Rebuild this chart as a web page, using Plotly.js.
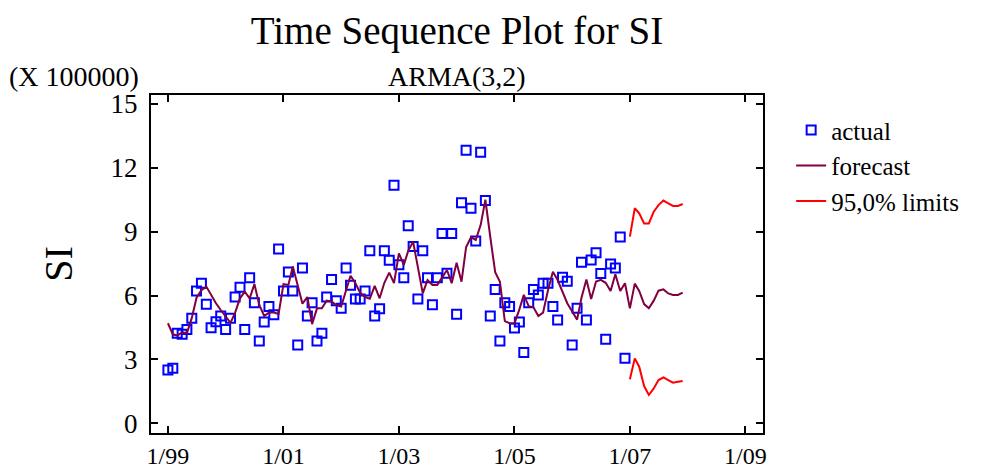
<!DOCTYPE html>
<html>
<head>
<meta charset="utf-8">
<script src="https://cdn.plot.ly/plotly-3.0.1.min.js"></script>
<style>
  html, body { margin: 0; padding: 0; background: #fff; }
  #chart { width: 986px; height: 472px; }
</style>
</head>
<body>
<div id="chart"></div>
<script>
// ---- data (values in units of 100000) ----
const startYear = 1999;          // first month: January 1999
const actual = [
  2.50,2.58,4.23,4.18,4.41,4.93,6.21,6.58,5.59,4.49,
  4.77,5.04,4.41,4.93,5.93,6.39,4.41,6.84,5.66,3.87,
  4.76,5.48,5.10,8.19,6.21,7.11,6.21,3.68,7.29,5.04,
  5.66,3.87,4.23,5.93,6.75,5.76,5.40,7.29,6.48,5.84,
  5.84,6.21,8.11,5.04,5.38,8.11,7.66,11.18,7.45,6.84,
  9.28,8.30,5.84,8.11,6.84,5.57,6.84,8.92,7.05,8.92,
  5.12,10.36,12.82,10.10,8.56,12.73,10.46,5.04,6.29,3.87,
  5.66,5.48,4.48,4.76,3.32,5.66,6.29,6.03,6.58,6.58,
  5.48,4.85,6.86,6.67,3.68,5.40,7.56,4.85,7.67,8.01,
  7.03,3.95,7.48,7.29,8.75,3.05
];
const forecast = [
  4.70,4.18,4.12,4.27,4.23,4.95,5.90,6.25,6.42,6.03,
  5.64,5.32,5.01,4.72,5.20,5.87,6.18,5.87,6.54,5.56,
  5.04,5.20,5.20,5.13,6.54,6.50,7.36,6.50,5.62,5.93,
  4.66,5.40,5.40,5.76,5.72,5.55,5.48,6.25,6.93,6.58,
  6.13,5.93,5.85,6.45,5.87,6.60,7.08,6.58,7.98,7.44,
  8.10,8.53,7.30,6.10,6.73,6.50,6.50,6.85,7.20,6.58,
  7.54,6.65,8.27,8.74,8.61,9.31,10.50,8.75,7.10,6.65,
  4.80,4.70,4.69,5.35,6.03,5.50,5.45,5.04,5.20,6.25,
  7.12,6.73,6.18,5.64,5.25,4.87,5.90,6.75,5.84,6.66,
  6.74,6.60,6.21,7.00,6.21,6.58,5.40,6.56,6.22,5.60,
  5.40,5.76,6.23,6.29,6.10,6.03,6.03,6.14
];
const upperLimit = [8.77,10.10,9.86,9.39,9.39,9.94,10.25,10.46,10.33,10.21,10.21,10.30];
const lowerLimit = [2.07,3.05,2.66,1.75,1.33,1.64,2.03,2.16,2.03,1.91,1.95,1.99];
const limitStart = 96;           // limits begin January 2007
const yTickVals = [0,3,6,9,12,15];
const xTickVals = ['1999-01-01','2001-01-01','2003-01-01','2005-01-01','2007-01-01','2009-01-01'];
const xTickText = ['1/99','1/01','1/03','1/05','1/07','1/09'];

function monthDate(i) {
  const y = startYear + Math.floor(i / 12);
  const m = (i % 12) + 1;
  return y + '-' + (m < 10 ? '0' + m : m) + '-01';
}
const months = forecast.map((_, i) => monthDate(i));
const actualX = actual.map((_, i) => months[i]);
const limitX = upperLimit.map((_, i) => months[limitStart + i]);

const FONT = 'Liberation Serif, Times New Roman, serif';

const traces = [
  {
    type: 'scatter', mode: 'markers', name: 'actual',
    x: actualX, y: actual,
    marker: { symbol: 'square-open', size: 9, color: '#0000FF', line: { width: 2, color: '#0000FF' } }
  },
  {
    type: 'scatter', mode: 'lines', name: 'forecast',
    x: months, y: forecast,
    line: { color: '#800040', width: 2 }
  },
  {
    type: 'scatter', mode: 'lines', name: '95,0% limits', legendgroup: 'lim',
    x: limitX, y: upperLimit,
    line: { color: '#FF0000', width: 2 }
  },
  {
    type: 'scatter', mode: 'lines', name: '95,0% limits', legendgroup: 'lim', showlegend: false,
    x: limitX, y: lowerLimit,
    line: { color: '#FF0000', width: 2 }
  }
];

const layout = {
  width: 986, height: 472,
  margin: { l: 151, r: 223, t: 95, b: 39 },
  paper_bgcolor: '#ffffff', plot_bgcolor: '#ffffff',
  font: { family: FONT, size: 26, color: '#000' },
  title: {
    text: 'Time Sequence Plot for SI',
    font: { family: FONT, size: 39, color: '#000' },
    x: 0.5, xref: 'paper', xanchor: 'center',
    y: 0.935, yref: 'container', yanchor: 'middle'
  },
  xaxis: {
    type: 'date',
    range: ['1998-09-16', '2009-04-22'],
    tickvals: xTickVals, ticktext: xTickText,
    ticks: 'inside', ticklen: 7, tickwidth: 2, tickcolor: '#000',
    showline: true, linecolor: '#000', linewidth: 2, mirror: 'ticks',
    showgrid: false, zeroline: false,
    ticklabelstandoff: 0,
    tickfont: { family: FONT, size: 24, color: '#000' }
  },
  yaxis: {
    range: [-0.456, 15.42],
    tickvals: yTickVals,
    ticks: 'inside', ticklen: 7, tickwidth: 2, tickcolor: '#000',
    showline: true, linecolor: '#000', linewidth: 2, mirror: 'ticks',
    showgrid: false, zeroline: false,
    ticklabelstandoff: 6,
    tickfont: { family: FONT, size: 27, color: '#000' },
    title: { text: 'SI', font: { family: FONT, size: 40, color: '#000' }, standoff: 26 }
  },
  legend: {
    x: 1.046, xanchor: 'left', y: 0.964, yanchor: 'top',
    font: { family: FONT, size: 25, color: '#000' },
    bgcolor: 'rgba(0,0,0,0)', borderwidth: 0,
    tracegroupgap: 0
  },
  annotations: [
    {
      text: 'ARMA(3,2)', xref: 'paper', yref: 'paper', x: 0.5, y: 1,
      xanchor: 'center', yanchor: 'bottom', yshift: 1, showarrow: false,
      font: { family: FONT, size: 28, color: '#000' }
    },
    {
      text: '(X 100000)', xref: 'paper', yref: 'paper', x: 0, y: 1,
      xanchor: 'right', yanchor: 'bottom', xshift: -10, yshift: 1, showarrow: false,
      font: { family: FONT, size: 28, color: '#000' }
    }
  ],
  showlegend: true
};

Plotly.newPlot('chart', traces, layout, { displayModeBar: false, staticPlot: true });
</script>
</body>
</html>
